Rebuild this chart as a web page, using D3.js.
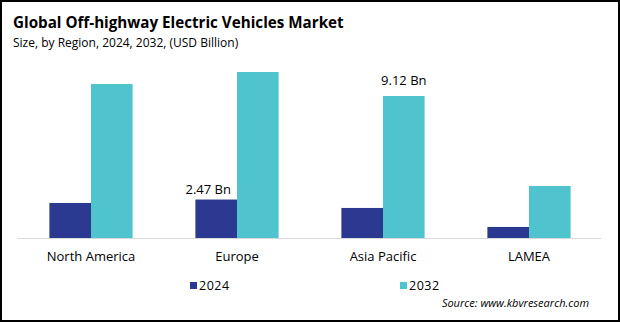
<!DOCTYPE html>
<html><head><meta charset="utf-8">
<script src="https://cdn.jsdelivr.net/npm/d3@7"></script>
<style>body{margin:0;background:#fff}svg{display:block}text{font-family:"Open Sans","Noto Sans",sans-serif}</style>
</head><body><svg id="c" width="620" height="322"></svg>
<script>
const categories = ["North America","Europe","Asia Pacific","LAMEA"];
const seriesNames = ["2024","2032"];
const values2024 = [2.25, 2.47, 1.93, 0.71];
const values2032 = [9.89, 10.66, 9.12, 3.34];
const labels = [{cat:"Europe", series:"2024", text:"2.47 Bn"},{cat:"Asia Pacific", series:"2032", text:"9.12 Bn"}];
const colors = {"2024":"#2b3990","2032":"#4fc4cf"};

const svg = d3.select("#c");
svg.append("rect").attr("x",1).attr("y",1).attr("width",618).attr("height",320).attr("fill","#fff").attr("stroke","#000").attr("stroke-width",2);

const x0 = d3.scaleBand().domain(categories).range([18,602]).paddingInner(0.43).paddingOuter(0.215);
const x1 = d3.scaleBand().domain(seriesNames).range([0,x0.bandwidth()]).padding(0);
const y = d3.scaleLinear().domain([0,9.12]).range([238,96]);

const data = categories.map((c,i)=>({cat:c, vals:[{s:"2024",v:values2024[i]},{s:"2032",v:values2032[i]}]}));
const g = svg.append("g");
g.selectAll("g.grp").data(data).join("g").attr("class","grp")
 .attr("transform",d=>`translate(${x0(d.cat)},0)`)
 .selectAll("rect").data(d=>d.vals).join("rect")
 .attr("x",d=>x1(d.s)).attr("width",x1.bandwidth())
 .attr("y",d=>y(d.v)).attr("height",d=>y(0)-y(d.v)).attr("fill",d=>colors[d.s]);

svg.append("line").attr("x1",17).attr("x2",601).attr("y1",y(0)+0.5).attr("y2",y(0)+0.5).attr("stroke","#d9d9d9").attr("stroke-width",1);

const xAxis = d3.axisBottom(x0).tickSize(0).tickPadding(0);
const ax = svg.append("g").attr("transform",`translate(0,${y(0)})`).call(xAxis);
ax.select(".domain").remove();
ax.selectAll("text").attr("font-size",13).attr("fill","#000").attr("dy","1.8em").style("font-family",'"Open Sans",sans-serif');

labels.forEach(l=>{
  const i = categories.indexOf(l.cat);
  const v = l.series==="2024"?values2024[i]:values2032[i];
  const off = l.series==="2024"?-8:0;
  const gap = l.series==="2024"?6:11;
  svg.append("text").attr("x",x0(l.cat)+x1(l.series)+x1.bandwidth()/2+off).attr("y",y(v)-gap)
   .attr("text-anchor","middle").attr("font-size",13).attr("fill","#000").text(l.text);
});

svg.append("text").attr("x",13).attr("y",28).attr("font-size",15.2).attr("font-weight","bold").attr("fill","#000").text("Global Off-highway Electric Vehicles Market");
svg.append("text").attr("x",13).attr("y",47).attr("font-size",12).attr("fill","#000").text("Size, by Region, 2024, 2032, (USD Billion)");

const legX = {"2024":190,"2032":400};
seriesNames.forEach(s=>{
  svg.append("rect").attr("x",legX[s]).attr("y",282).attr("width",7).attr("height",7).attr("fill",colors[s]);
  svg.append("text").attr("x",legX[s]+9).attr("y",289.5).attr("font-size",12.5).attr("letter-spacing",0.5).attr("fill","#000").text(s);
});
svg.append("text").attr("x",589).attr("y",307).attr("text-anchor","end").attr("font-size",11).attr("font-style","italic").attr("fill","#000").text("Source: www.kbvresearch.com");
</script></body></html>
